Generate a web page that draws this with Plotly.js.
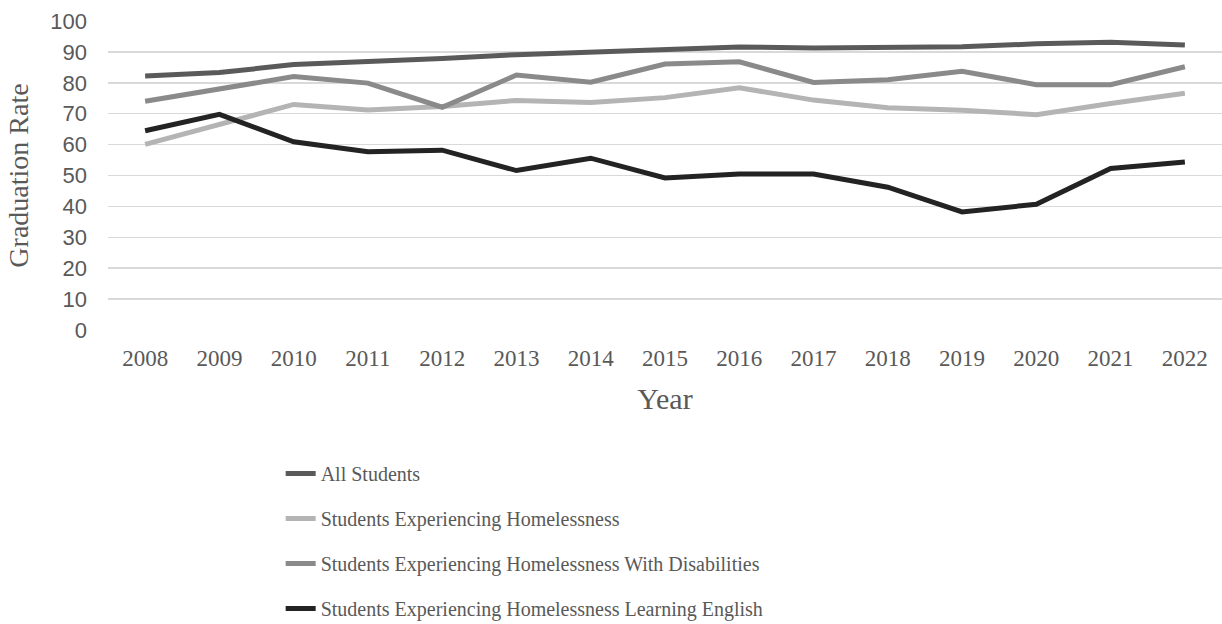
<!DOCTYPE html>
<html>
<head>
<meta charset="utf-8">
<script src="https://cdn.plot.ly/plotly-3.0.1.min.js"></script>
<style>html,body{margin:0;padding:0;background:#fff;}#chart{width:1222px;height:624px;}</style>
</head>
<body>
<div id="chart"></div>
<script>
const years = ["2008","2009","2010","2011","2012","2013","2014","2015","2016","2017","2018","2019","2020","2021","2022"];
const allStudents = [82.2, 83.3, 85.9, 86.7, 87.9, 89.1, 90.0, 90.7, 91.6, 91.3, 91.6, 91.7, 92.6, 93.1, 92.2];
const homeless = [60.1, 66.7, 73.0, 71.2, 72.3, 74.3, 73.6, 75.2, 78.4, 74.4, 71.9, 71.1, 69.7, 73.3, 76.6];
const homelessDisab = [74.0, 77.8, 82.0, 79.9, 72.1, 82.5, 80.2, 86.1, 86.8, 80.1, 81.0, 83.7, 79.4, 79.4, 85.2];
const homelessEnglish = [64.5, 69.8, 60.9, 57.7, 58.2, 51.6, 55.6, 49.2, 50.5, 50.5, 46.2, 38.2, 40.7, 52.3, 54.4];

const names = ["All Students","Students Experiencing Homelessness","Students Experiencing Homelessness With Disabilities","Students Experiencing Homelessness Learning English"];
const series = [allStudents, homeless, homelessDisab, homelessEnglish];
const colors = ["#5a5a5a","#b4b4b4","#8a8a8a","#232323"];

const traces = series.map((s,i)=>({
  type:"scatter", mode:"lines", x: years, y: s, name: names[i],
  legendgroup: "g"+i,
  line:{color:colors[i], width:5}
}));

const layout = {
  width:1222, height:624,
  margin:{l:108, r:0, t:21, b:294, autoexpand:false},
  paper_bgcolor:"#fff", plot_bgcolor:"#fff",
  showlegend:true,
  legend:{
    orientation:"v", x:0.155, xanchor:"left", y:-0.401, yanchor:"top",
    font:{family:"Liberation Serif, Times New Roman, serif", size:20, color:"#595959"},
    tracegroupgap:16, traceorder:"grouped", bgcolor:"rgba(0,0,0,0)"
  },
  xaxis:{
    type:"category", range:[-0.5,14.5],
    showgrid:false, zeroline:false, showline:false, ticks:"",
    tickfont:{family:"Liberation Serif, Times New Roman, serif", size:23, color:"#595959"},
    ticklabelstandoff:12,
    title:{text:"Year", font:{family:"Liberation Serif, Times New Roman, serif", size:30, color:"#595959"}, standoff:17}
  },
  yaxis:{
    range:[0,100], dtick:10, tick0:0,
    showgrid:true, gridcolor:"#d9d9d9", gridwidth:1.5,
    zeroline:false, showline:false, ticks:"",
    tickfont:{family:"Liberation Sans, Arial, sans-serif", size:22, color:"#595959"},
    ticklabelstandoff:20,
    title:{text:"Graduation Rate", font:{family:"Liberation Serif, Times New Roman, serif", size:28, color:"#595959"}, standoff:13}
  }
};

Plotly.newPlot("chart", traces, layout, {displayModeBar:false, staticPlot:true});
</script>
</body>
</html>
